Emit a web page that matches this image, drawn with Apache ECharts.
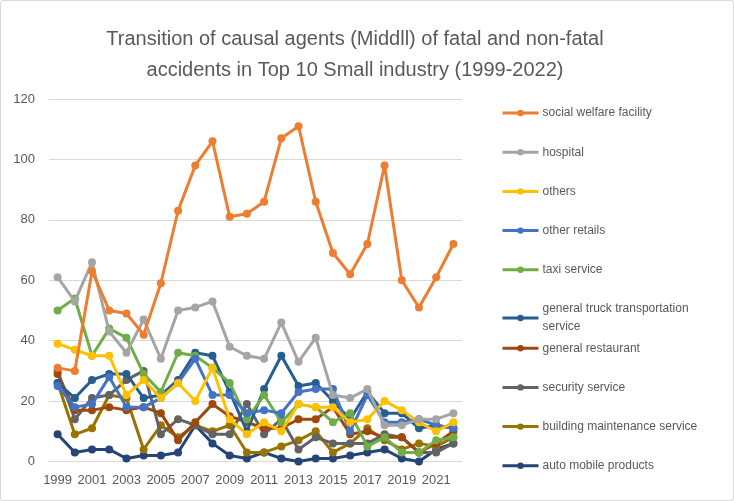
<!DOCTYPE html>
<html>
<head>
<meta charset="utf-8">
<script src="https://cdn.jsdelivr.net/npm/echarts@6/dist/echarts.min.js"></script>
<style>
html,body{margin:0;padding:0;background:#fff;}
#wrap{position:absolute;left:0;top:0;width:732px;height:499px;border:1px solid #D9D9D9;border-radius:3px;}
#chart{width:734px;height:501px;position:absolute;left:0;top:0;}
</style>
</head>
<body>
<div id="wrap"></div>
<div id="chart"></div>
<script>
const years = ['1999','2000','2001','2002','2003','2004','2005','2006','2007','2008','2009','2010','2011','2012','2013','2014','2015','2016','2017','2018','2019','2020','2021','2022'];
const seriesNames = ['social welfare facility','hospital','others','other retails','taxi service','general truck transportation service','general restaurant','security service','building maintenance service','auto mobile products'];
const socialWelfare = [31,30,63,50,49,42,59,83,98,106,81,82,86,107,111,86,69,62,72,98,60,51,61,72];
const hospital      = [61,53,66,43,36,47,34,50,51,53,38,35,34,46,33,41,22,21,24,12,12,14,14,16];
const others        = [39,37,35,35,22,27,21,26,20,31,14,9,13,10,19,18,18,13,14,20,17,13,10,13];
const otherRetails  = [25,18,19,28,18,18,21,26,34,22,22,16,17,16,23,24,24,10,22,13,13,14,12,11];
const taxiService   = [50,54,35,44,41,29,23,36,35,31,26,14,22,13,19,18,13,16,5,8,3,3,7,8];
const truckTransport= [26,21,27,29,29,21,22,27,36,35,23,10,24,35,25,26,20,14,23,16,16,11,12,11];
const restaurant    = [29,17,17,18,17,18,16,7,13,19,15,13,11,11,14,14,18,9,10,8,8,3,6,10];
const security      = [30,14,21,22,27,30,9,14,12,9,9,19,9,14,4,8,6,6,6,9,8,3,3,6];
const buildingMaint = [26,9,11,22,21,4,12,8,12,10,12,3,3,5,7,10,3,6,11,7,4,6,5,8];
const autoMobile    = [9,3,4,4,1,2,2,3,12,6,2,1,3,1,0,1,1,2,3,4,1,0,4,6];
const yTicks = [0,20,40,60,80,100,120];

const allData = [socialWelfare,hospital,others,otherRetails,taxiService,truckTransport,restaurant,security,buildingMaint,autoMobile];
const colors = ['#ED7D31','#A5A5A5','#FFC000','#4472C4','#70AD47','#255E91','#9E480E','#636363','#997300','#264478'];
const font = '"Liberation Sans", "DejaVu Sans", sans-serif';

const chart = echarts.init(document.getElementById('chart'), null, {renderer:'canvas'});
const legends = seriesNames.map((n,i)=>({
  data:[n],
  orient:'vertical',
  left:496,
  top:99 + i*39.2,
  itemWidth:36,
  itemHeight:8,
  itemGap:0,
  selectedMode:false,
  lineStyle:{width:3},
  formatter: (name)=> name === 'general truck transportation service' ? 'general truck transportation\nservice' : name,
  textStyle:{color:'#595959',fontSize:12,fontFamily:font,lineHeight:18,padding:[0,0,0,-1]}
}));
chart.setOption({
  animation:false,
  color:colors,
  title:{
    text:'Transition of causal agents (Middll) of fatal and non-fatal\naccidents in Top 10 Small industry (1999-2022)',
    left:350, textAlign:'center', top:19,
    textStyle:{color:'#595959',fontSize:20,fontWeight:'normal',fontFamily:font,lineHeight:31}
  },
  legend:legends,
  grid:{left:49,right:272,top:99,bottom:39.5,containLabel:false},
  xAxis:{
    type:'category',
    data:years,
    boundaryGap:true,
    axisLine:{lineStyle:{color:'#D9D9D9'}},
    axisTick:{show:false},
    axisLabel:{interval:1,color:'#595959',fontSize:13,fontFamily:font,margin:12}
  },
  yAxis:{
    type:'value',
    min:yTicks[0],max:yTicks[yTicks.length-1],interval:20,
    axisLine:{show:false},
    axisTick:{show:false},
    splitLine:{lineStyle:{color:'#D9D9D9',width:1}},
    axisLabel:{color:'#595959',fontSize:13,fontFamily:font,margin:14}
  },
  series: seriesNames.map((n,i)=>({
    name:n,
    type:'line',
    data:allData[i],
    symbol:'circle',
    symbolSize:8,
    lineStyle:{width:3,color:colors[i]},
    itemStyle:{color:colors[i]},
    z: 20 - i
  }))
});
</script>
</body>
</html>
